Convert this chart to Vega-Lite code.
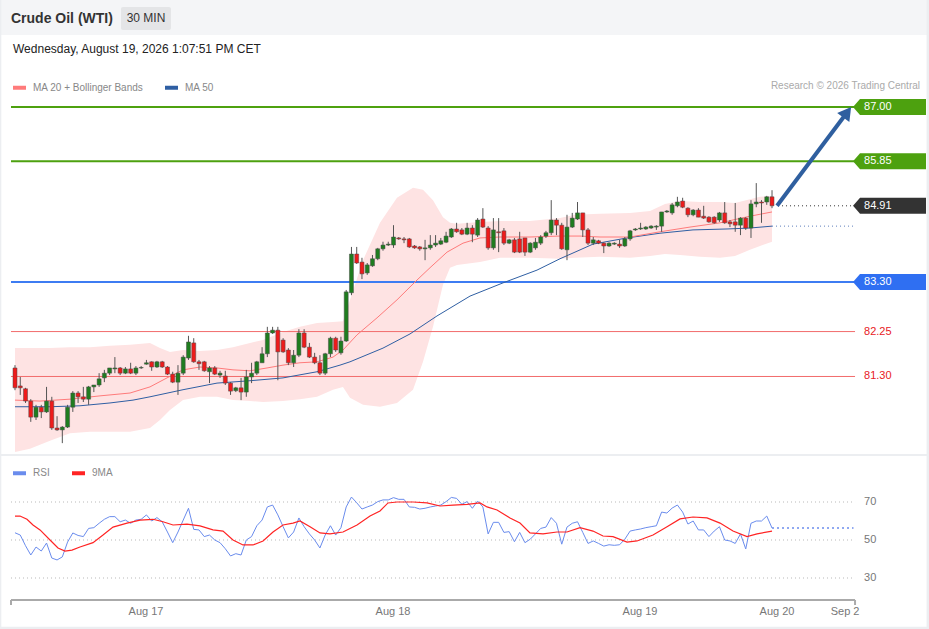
{
"$schema":"https://vega.github.io/schema/vega-lite/v6.json",
"padding":0,"spacing":0,"background":"#ffffff",
"config":{"view":{"stroke":null},"font":"Liberation Sans","scale":{"continuousPadding":0}},
"datasets":{
"candles":[
{"i":0,"o":81.48,"h":81.54,"l":81.01,"c":81.06},{"i":1,"o":81.10,"h":81.29,"l":80.91,"c":81.06},{"i":2,"o":81.04,"h":81.06,"l":80.74,"c":80.78},{"i":3,"o":80.78,"h":80.82,"l":80.34,"c":80.44},{"i":4,"o":80.44,"h":80.70,"l":80.38,"c":80.65},{"i":5,"o":80.65,"h":80.70,"l":80.42,"c":80.55},{"i":6,"o":80.55,"h":81.08,"l":80.53,"c":80.78},{"i":7,"o":80.78,"h":80.87,"l":80.17,"c":80.21},{"i":8,"o":80.21,"h":80.46,"l":80.15,"c":80.17},{"i":9,"o":80.17,"h":80.25,"l":79.89,"c":80.23},
{"i":10,"o":80.23,"h":80.70,"l":80.21,"c":80.65},{"i":11,"o":80.65,"h":80.99,"l":80.55,"c":80.95},{"i":12,"o":80.95,"h":80.99,"l":80.74,"c":80.87},{"i":13,"o":80.87,"h":81.08,"l":80.76,"c":80.82},{"i":14,"o":80.82,"h":81.10,"l":80.70,"c":81.08},{"i":15,"o":81.08,"h":81.12,"l":80.97,"c":81.12},{"i":16,"o":81.12,"h":81.37,"l":81.08,"c":81.25},{"i":17,"o":81.27,"h":81.44,"l":81.18,"c":81.37},{"i":18,"o":81.37,"h":81.48,"l":81.33,"c":81.48},{"i":19,"o":81.46,"h":81.71,"l":81.37,"c":81.48},
{"i":20,"o":81.48,"h":81.50,"l":81.33,"c":81.37},{"i":21,"o":81.37,"h":81.50,"l":81.35,"c":81.46},{"i":22,"o":81.46,"h":81.59,"l":81.35,"c":81.37},{"i":23,"o":81.37,"h":81.52,"l":81.33,"c":81.48},{"i":24,"o":81.48,"h":81.52,"l":81.46,"c":81.49},{"i":25,"o":81.56,"h":81.65,"l":81.55,"c":81.59},{"i":26,"o":81.61,"h":81.62,"l":81.42,"c":81.50},{"i":27,"o":81.50,"h":81.63,"l":81.48,"c":81.61},{"i":28,"o":81.61,"h":81.63,"l":81.48,"c":81.50},{"i":29,"o":81.50,"h":81.52,"l":81.33,"c":81.35},
{"i":30,"o":81.35,"h":81.40,"l":81.16,"c":81.18},{"i":31,"o":81.18,"h":81.54,"l":80.91,"c":81.37},{"i":32,"o":81.37,"h":81.75,"l":81.33,"c":81.71},{"i":33,"o":81.69,"h":82.16,"l":81.65,"c":82.03},{"i":34,"o":82.01,"h":82.11,"l":81.59,"c":81.61},{"i":35,"o":81.61,"h":81.65,"l":81.44,"c":81.57},{"i":36,"o":81.61,"h":81.63,"l":81.40,"c":81.42},{"i":37,"o":81.40,"h":81.52,"l":81.16,"c":81.48},{"i":38,"o":81.48,"h":81.52,"l":81.33,"c":81.35},{"i":39,"o":81.33,"h":81.42,"l":81.27,"c":81.37},
{"i":40,"o":81.31,"h":81.42,"l":81.12,"c":81.16},{"i":41,"o":81.16,"h":81.18,"l":80.91,"c":80.99},{"i":42,"o":81.00,"h":81.08,"l":80.97,"c":81.06},{"i":43,"o":81.06,"h":81.27,"l":80.80,"c":80.97},{"i":44,"o":80.97,"h":81.44,"l":80.87,"c":81.29},{"i":45,"o":81.29,"h":81.59,"l":81.16,"c":81.37},{"i":46,"o":81.37,"h":81.63,"l":81.33,"c":81.61},{"i":47,"o":81.59,"h":81.92,"l":81.59,"c":81.78},{"i":48,"o":81.78,"h":82.35,"l":81.71,"c":82.22},{"i":49,"o":82.22,"h":82.35,"l":82.20,"c":82.28},
{"i":50,"o":82.28,"h":82.35,"l":81.22,"c":81.82},{"i":51,"o":82.07,"h":82.11,"l":81.80,"c":81.82},{"i":52,"o":81.86,"h":81.90,"l":81.54,"c":81.59},{"i":53,"o":81.59,"h":81.86,"l":81.50,"c":81.75},{"i":54,"o":81.75,"h":82.30,"l":81.71,"c":82.22},{"i":55,"o":82.22,"h":82.30,"l":81.90,"c":81.92},{"i":56,"o":81.92,"h":82.01,"l":81.69,"c":81.71},{"i":57,"o":81.71,"h":81.80,"l":81.56,"c":81.59},{"i":58,"o":81.59,"h":81.75,"l":81.33,"c":81.37},{"i":59,"o":81.37,"h":81.80,"l":81.33,"c":81.78},
{"i":60,"o":81.78,"h":82.14,"l":81.71,"c":82.11},{"i":61,"o":82.11,"h":82.14,"l":81.82,"c":81.86},{"i":62,"o":81.80,"h":82.14,"l":81.76,"c":82.05},{"i":63,"o":82.05,"h":83.13,"l":82.03,"c":83.09},{"i":64,"o":83.07,"h":84.04,"l":83.02,"c":83.89},{"i":65,"o":83.89,"h":84.04,"l":83.68,"c":83.70},{"i":66,"o":83.72,"h":83.81,"l":83.36,"c":83.47},{"i":67,"o":83.49,"h":83.70,"l":83.45,"c":83.66},{"i":68,"o":83.64,"h":83.87,"l":83.62,"c":83.79},{"i":69,"o":83.79,"h":84.02,"l":83.76,"c":84.00},
{"i":70,"o":84.00,"h":84.15,"l":83.96,"c":84.08},{"i":71,"o":84.08,"h":84.15,"l":84.06,"c":84.10},{"i":72,"o":84.08,"h":84.50,"l":84.02,"c":84.25},{"i":73,"o":84.23,"h":84.25,"l":84.19,"c":84.21},{"i":74,"o":84.21,"h":84.25,"l":84.12,"c":84.19},{"i":75,"o":84.21,"h":84.23,"l":84.02,"c":84.04},{"i":76,"o":84.06,"h":84.08,"l":84.00,"c":84.02},{"i":77,"o":84.04,"h":84.06,"l":83.96,"c":84.00},{"i":78,"o":84.00,"h":84.19,"l":83.76,"c":84.02},{"i":79,"o":84.02,"h":84.29,"l":83.98,"c":84.08},
{"i":80,"o":84.08,"h":84.29,"l":84.04,"c":84.12},{"i":81,"o":84.10,"h":84.23,"l":84.08,"c":84.17},{"i":82,"o":84.14,"h":84.36,"l":84.12,"c":84.27},{"i":83,"o":84.25,"h":84.44,"l":84.23,"c":84.42},{"i":84,"o":84.42,"h":84.55,"l":84.34,"c":84.36},{"i":85,"o":84.40,"h":84.44,"l":84.29,"c":84.31},{"i":86,"o":84.31,"h":84.55,"l":84.29,"c":84.44},{"i":87,"o":84.44,"h":84.50,"l":84.14,"c":84.31},{"i":88,"o":84.29,"h":84.65,"l":84.25,"c":84.61},{"i":89,"o":84.63,"h":84.86,"l":84.44,"c":84.46},
{"i":90,"o":84.44,"h":84.48,"l":83.98,"c":84.02},{"i":91,"o":84.02,"h":84.65,"l":83.98,"c":84.40},{"i":92,"o":84.36,"h":84.65,"l":83.93,"c":84.34},{"i":93,"o":84.38,"h":84.44,"l":84.08,"c":84.12},{"i":94,"o":84.12,"h":84.21,"l":84.10,"c":84.19},{"i":95,"o":84.19,"h":84.23,"l":83.91,"c":83.93},{"i":96,"o":84.21,"h":84.36,"l":83.91,"c":83.93},{"i":97,"o":84.23,"h":84.23,"l":83.85,"c":83.93},{"i":98,"o":83.93,"h":84.14,"l":83.91,"c":84.12},{"i":99,"o":84.02,"h":84.23,"l":83.98,"c":84.14},
{"i":100,"o":84.12,"h":84.29,"l":84.08,"c":84.25},{"i":101,"o":84.27,"h":84.38,"l":84.23,"c":84.34},{"i":102,"o":84.34,"h":85.03,"l":84.29,"c":84.61},{"i":103,"o":84.61,"h":84.65,"l":84.29,"c":84.50},{"i":104,"o":84.50,"h":84.55,"l":83.98,"c":84.00},{"i":105,"o":83.98,"h":84.72,"l":83.76,"c":84.46},{"i":106,"o":84.46,"h":84.76,"l":84.44,"c":84.65},{"i":107,"o":84.63,"h":84.99,"l":84.61,"c":84.76},{"i":108,"o":84.76,"h":84.76,"l":84.25,"c":84.40},{"i":109,"o":84.40,"h":84.44,"l":84.08,"c":84.12},
{"i":110,"o":84.12,"h":84.25,"l":84.08,"c":84.19},{"i":111,"o":84.17,"h":84.19,"l":84.10,"c":84.12},{"i":112,"o":84.12,"h":84.14,"l":83.91,"c":84.06},{"i":113,"o":84.06,"h":84.14,"l":84.04,"c":84.12},{"i":114,"o":84.10,"h":84.14,"l":84.08,"c":84.12},{"i":115,"o":84.10,"h":84.19,"l":84.02,"c":84.06},{"i":116,"o":84.06,"h":84.25,"l":84.04,"c":84.21},{"i":117,"o":84.21,"h":84.40,"l":84.17,"c":84.38},{"i":118,"o":84.40,"h":84.44,"l":84.38,"c":84.42},{"i":119,"o":84.42,"h":84.55,"l":84.40,"c":84.44},
{"i":120,"o":84.42,"h":84.48,"l":84.40,"c":84.46},{"i":121,"o":84.44,"h":84.50,"l":84.42,"c":84.48},{"i":122,"o":84.46,"h":84.50,"l":84.40,"c":84.48},{"i":123,"o":84.48,"h":84.78,"l":84.36,"c":84.78},{"i":124,"o":84.78,"h":84.82,"l":84.76,"c":84.80},{"i":125,"o":84.76,"h":84.97,"l":84.72,"c":84.93},{"i":126,"o":84.91,"h":85.10,"l":84.88,"c":84.99},{"i":127,"o":85.01,"h":85.08,"l":84.86,"c":84.88},{"i":128,"o":84.86,"h":84.88,"l":84.67,"c":84.72},{"i":129,"o":84.72,"h":84.84,"l":84.69,"c":84.82},
{"i":130,"o":84.82,"h":84.86,"l":84.67,"c":84.67},{"i":131,"o":84.69,"h":84.91,"l":84.63,"c":84.65},{"i":132,"o":84.67,"h":84.69,"l":84.55,"c":84.57},{"i":133,"o":84.67,"h":84.69,"l":84.53,"c":84.55},{"i":134,"o":84.61,"h":84.78,"l":84.57,"c":84.76},{"i":135,"o":84.76,"h":84.99,"l":84.53,"c":84.55},{"i":136,"o":84.57,"h":84.61,"l":84.46,"c":84.53},{"i":137,"o":84.57,"h":84.97,"l":84.36,"c":84.50},{"i":138,"o":84.50,"h":84.67,"l":84.29,"c":84.65},{"i":139,"o":84.65,"h":84.67,"l":84.40,"c":84.44},
{"i":140,"o":84.44,"h":85.03,"l":84.23,"c":84.95},{"i":141,"o":84.95,"h":85.39,"l":84.88,"c":84.99},{"i":142,"o":84.99,"h":85.03,"l":84.55,"c":84.97},{"i":143,"o":84.99,"h":85.12,"l":84.93,"c":85.10},{"i":144,"o":85.10,"h":85.24,"l":84.86,"c":84.91}
],
"band":[
{"i":0,"up":81.90,"lo":79.70},{"i":2.85,"up":81.90,"lo":79.77},{"i":6.66,"up":81.90,"lo":79.94},{"i":10.46,"up":81.92,"lo":80.10},{"i":14.27,"up":81.92,"lo":80.13},{"i":18.07,"up":81.95,"lo":80.13},{"i":21.88,"up":81.97,"lo":80.13},{"i":25.68,"up":82.01,"lo":80.21},{"i":27.58,"up":81.90,"lo":80.38},{"i":29.48,"up":81.82,"lo":80.59},{"i":31.96,"up":81.86,"lo":80.80},{"i":35.19,"up":81.84,"lo":80.87},{"i":38.43,"up":81.86,"lo":80.87},{"i":41.47,"up":81.92,"lo":80.80},{"i":44.70,"up":82.01,"lo":80.78},{"i":47.18,"up":82.07,"lo":80.76},{"i":50.98,"up":82.24,"lo":80.78},{"i":54.21,"up":82.35,"lo":80.82},{"i":57.45,"up":82.43,"lo":80.87},{"i":60.49,"up":82.45,"lo":81.02},{"i":62.39,"up":82.47,"lo":81.08},{"i":63.72,"up":82.92,"lo":80.85},{"i":66.20,"up":83.76,"lo":80.70},{"i":69.43,"up":84.55,"lo":80.66},{"i":72.66,"up":85.08,"lo":80.74},{"i":75.71,"up":85.29,"lo":81.02},{"i":77.61,"up":85.25,"lo":81.61},{"i":79.51,"up":85.03,"lo":82.35},{"i":81.41,"up":84.67,"lo":83.24},{"i":82.75,"up":84.55,"lo":83.60},{"i":84.08,"up":84.53,"lo":83.66},{"i":88.45,"up":84.57,"lo":83.72},{"i":92.26,"up":84.59,"lo":83.81},{"i":97.96,"up":84.59,"lo":83.81},{"i":103.67,"up":84.65,"lo":83.79},{"i":106.52,"up":84.72,"lo":83.81},{"i":111.28,"up":84.74,"lo":83.83},{"i":116.99,"up":84.76,"lo":83.81},{"i":120.79,"up":84.80,"lo":83.85},{"i":123.64,"up":84.95,"lo":83.89},{"i":126.50,"up":85.01,"lo":83.87},{"i":130.30,"up":84.99,"lo":83.83},{"i":134.11,"up":84.99,"lo":83.81},{"i":136.96,"up":84.97,"lo":83.85},{"i":139.81,"up":85.05,"lo":83.98},{"i":141.72,"up":85.10,"lo":84.06},{"i":144,"up":85.12,"lo":84.15}
],
"ma20":[
{"i":0,"p":80.80},{"i":4.76,"p":80.78},{"i":10.46,"p":80.82},{"i":16.17,"p":80.89},{"i":21.88,"p":80.95},{"i":25.68,"p":81.08},{"i":28.91,"p":81.27},{"i":31.96,"p":81.44},{"i":35.19,"p":81.50},{"i":38.43,"p":81.48},{"i":41.47,"p":81.44},{"i":44.70,"p":81.42},{"i":47.94,"p":81.48},{"i":50.98,"p":81.54},{"i":54.21,"p":81.59},{"i":57.45,"p":81.61},{"i":60.49,"p":81.71},{"i":62.39,"p":81.86},{"i":65.06,"p":82.18},{"i":68.86,"p":82.54},{"i":72.66,"p":82.92},{"i":76.47,"p":83.34},{"i":78.94,"p":83.60},{"i":82.18,"p":83.93},{"i":85.22,"p":84.12},{"i":88.45,"p":84.23},{"i":92.26,"p":84.25},{"i":97.96,"p":84.25},{"i":103.67,"p":84.27},{"i":107.48,"p":84.27},{"i":111.28,"p":84.25},{"i":116.99,"p":84.25},{"i":122.69,"p":84.36},{"i":128.40,"p":84.46},{"i":134.11,"p":84.55},{"i":139.81,"p":84.69},{"i":144,"p":84.78}
],
"ma50":[
{"i":0,"p":80.66},{"i":6.66,"p":80.66},{"i":12.36,"p":80.68},{"i":18.07,"p":80.74},{"i":22.45,"p":80.80},{"i":25.68,"p":80.87},{"i":31.96,"p":81.02},{"i":38.43,"p":81.16},{"i":44.70,"p":81.21},{"i":50.98,"p":81.27},{"i":57.45,"p":81.40},{"i":61.82,"p":81.54},{"i":63.72,"p":81.61},{"i":70.00,"p":81.90},{"i":75.14,"p":82.20},{"i":80.27,"p":82.58},{"i":86.55,"p":83.00},{"i":92.83,"p":83.28},{"i":99.30,"p":83.55},{"i":103.67,"p":83.79},{"i":106.52,"p":83.93},{"i":109.95,"p":84.10},{"i":116.42,"p":84.23},{"i":122.69,"p":84.33},{"i":128.97,"p":84.40},{"i":135.44,"p":84.42},{"i":139.81,"p":84.44},{"i":144,"p":84.48}
],
"levels":[{"lv":87.00,"kind":"res"},{"lv":85.85,"kind":"res"},{"lv":84.91,"kind":"last"},{"lv":83.30,"kind":"pivot"},{"lv":82.25,"kind":"sup"},{"lv":81.30,"kind":"sup"}],
"arrow":[{"i":144.95,"p":84.91},{"i":158.30,"p":86.89}],
"days":[{"i":24.92,"d":"Aug 17"},{"i":71.9,"d":"Aug 18"},{"i":118.89,"d":"Aug 19"},{"i":144.95,"d":"Aug 20"},{"i":157.9,"d":"Sep 2"}],
"rsi":[
{"i":0,"v":53.8},{"i":1,"v":52.6},{"i":2,"v":47.0},{"i":3,"v":42.1},{"i":4,"v":46.3},{"i":5,"v":44.2},{"i":6,"v":48.4},{"i":7,"v":40.5},{"i":8,"v":39.5},{"i":9,"v":41.1},{"i":10,"v":48.9},{"i":11,"v":53.7},{"i":12,"v":52.4},{"i":13,"v":51.8},{"i":14,"v":56.1},{"i":15,"v":56.5},{"i":16,"v":58.8},{"i":17,"v":60.9},{"i":18,"v":62.3},{"i":19,"v":62.3},{"i":20,"v":59.6},{"i":21,"v":60.5},{"i":22,"v":58.8},{"i":23,"v":60.5},{"i":24,"v":60.9},{"i":25,"v":63.2},{"i":26,"v":60.0},{"i":27,"v":61.8},{"i":28,"v":59.6},{"i":29,"v":54.2},{"i":30,"v":48.6},{"i":31,"v":54.2},{"i":32,"v":60.5},{"i":33,"v":66.7},{"i":34,"v":55.6},{"i":35,"v":55.3},{"i":36,"v":51.8},{"i":37,"v":52.6},{"i":38,"v":50.0},{"i":39,"v":48.6},{"i":40,"v":45.4},{"i":41,"v":41.6},{"i":42,"v":42.8},{"i":43,"v":42.1},{"i":44,"v":50.0},{"i":45,"v":51.8},{"i":46,"v":57.5},{"i":47,"v":60.5},{"i":48,"v":67.4},{"i":49,"v":68.4},{"i":50,"v":63.2},{"i":51,"v":57.0},{"i":52,"v":51.1},{"i":53,"v":54.2},{"i":54,"v":61.6},{"i":55,"v":57.0},{"i":56,"v":53.2},{"i":57,"v":50.0},{"i":58,"v":45.8},{"i":59,"v":52.6},{"i":60,"v":57.5},{"i":61,"v":52.6},{"i":62,"v":56.5},{"i":63,"v":67.4},{"i":64,"v":72.6},{"i":65,"v":69.6},{"i":66,"v":66.3},{"i":67,"v":67.4},{"i":68,"v":68.4},{"i":69,"v":70.2},{"i":70,"v":71.1},{"i":71,"v":71.1},{"i":72,"v":72.3},{"i":73,"v":71.4},{"i":74,"v":71.4},{"i":75,"v":67.4},{"i":76,"v":67.2},{"i":77,"v":66.3},{"i":78,"v":66.7},{"i":79,"v":67.4},{"i":80,"v":67.9},{"i":81,"v":68.4},{"i":82,"v":70.2},{"i":83,"v":72.4},{"i":84,"v":71.9},{"i":85,"v":68.8},{"i":86,"v":70.2},{"i":87,"v":66.7},{"i":88,"v":70.5},{"i":89,"v":67.4},{"i":90,"v":53.2},{"i":91,"v":59.3},{"i":92,"v":59.3},{"i":93,"v":54.0},{"i":94,"v":54.4},{"i":95,"v":49.1},{"i":96,"v":54.0},{"i":97,"v":48.6},{"i":98,"v":50.4},{"i":99,"v":53.2},{"i":100,"v":56.1},{"i":101,"v":56.8},{"i":102,"v":61.8},{"i":103,"v":58.8},{"i":104,"v":47.8},{"i":105,"v":56.8},{"i":106,"v":58.8},{"i":107,"v":59.6},{"i":108,"v":54.0},{"i":109,"v":48.2},{"i":110,"v":49.5},{"i":111,"v":48.2},{"i":112,"v":46.8},{"i":113,"v":47.5},{"i":114,"v":47.2},{"i":115,"v":47.5},{"i":116,"v":50.4},{"i":117,"v":54.7},{"i":118,"v":55.3},{"i":119,"v":55.8},{"i":120,"v":56.5},{"i":121,"v":57.0},{"i":122,"v":57.5},{"i":123,"v":64.7},{"i":124,"v":64.2},{"i":125,"v":66.8},{"i":126,"v":68.4},{"i":127,"v":64.7},{"i":128,"v":58.4},{"i":129,"v":60.0},{"i":130,"v":55.3},{"i":131,"v":55.3},{"i":132,"v":51.8},{"i":133,"v":54.7},{"i":134,"v":57.0},{"i":135,"v":50.0},{"i":136,"v":49.5},{"i":137,"v":48.2},{"i":138,"v":53.2},{"i":139,"v":45.3},{"i":140,"v":58.8},{"i":141,"v":60.0},{"i":142,"v":60.0},{"i":143,"v":62.6},{"i":144,"v":56.3}
],
"rsi9":[
{"i":0,"v":62.6},{"i":0.95,"v":62.6},{"i":2.28,"v":60.9},{"i":3.42,"v":57.9},{"i":4.76,"v":55.3},{"i":6.66,"v":50.0},{"i":8.18,"v":45.8},{"i":9.51,"v":44.2},{"i":10.84,"v":44.7},{"i":12.36,"v":46.3},{"i":14.84,"v":48.6},{"i":16.74,"v":52.6},{"i":18.64,"v":56.8},{"i":21.31,"v":58.9},{"i":23.78,"v":60.5},{"i":26.25,"v":60.9},{"i":28.15,"v":59.6},{"i":30.06,"v":57.9},{"i":32.72,"v":58.4},{"i":35.19,"v":57.4},{"i":37.66,"v":55.3},{"i":39.57,"v":54.7},{"i":41.47,"v":50.0},{"i":43.37,"v":47.4},{"i":45.27,"v":47.4},{"i":47.18,"v":49.5},{"i":49.08,"v":54.2},{"i":50.98,"v":57.9},{"i":52.88,"v":58.9},{"i":54.21,"v":60.0},{"i":56.12,"v":57.0},{"i":58.02,"v":53.7},{"i":59.92,"v":53.2},{"i":62.39,"v":54.2},{"i":65.06,"v":57.9},{"i":67.53,"v":62.6},{"i":69.43,"v":65.3},{"i":70.95,"v":69.5},{"i":72.66,"v":70.0},{"i":75.71,"v":70.0},{"i":78.37,"v":69.5},{"i":80.84,"v":67.9},{"i":83.32,"v":68.4},{"i":85.98,"v":68.8},{"i":88.45,"v":69.5},{"i":89.79,"v":67.4},{"i":91.69,"v":65.8},{"i":94.16,"v":61.6},{"i":96.06,"v":58.9},{"i":97.96,"v":53.7},{"i":100.44,"v":53.2},{"i":103.10,"v":54.2},{"i":105.00,"v":54.2},{"i":107.48,"v":56.5},{"i":109.95,"v":54.7},{"i":111.85,"v":52.1},{"i":113.75,"v":51.8},{"i":116.42,"v":48.9},{"i":118.32,"v":49.5},{"i":121.36,"v":52.6},{"i":124.03,"v":57.0},{"i":126.50,"v":61.1},{"i":128.97,"v":62.1},{"i":131.63,"v":61.6},{"i":134.11,"v":58.9},{"i":136.58,"v":54.7},{"i":139.24,"v":51.8},{"i":141.15,"v":53.2},{"i":144,"v":54.7}
],
"rsilv":[{"lv":70},{"lv":50},{"lv":30}]
},
"vconcat":[
{
"width":929,"height":456,
"layer":[
{"data":{"values":[{"k":"header"}]},"mark":{"type":"rect","fill":"#f4f5f7"},
 "encoding":{"x":{"datum":-2.853,"type":"quantitative","scale":{"domain":[-2.853,173.86],"nice":false,"zero":false,"padding":0},"axis":null},"x2":{"datum":173.86},
 "y":{"datum":89.263,"type":"quantitative","scale":{"domain":[79.618,89.263],"nice":false,"zero":false,"padding":0},"axis":null},"y2":{"datum":88.523}}},
{"data":{"values":[{"k":"edgeL"}]},"mark":{"type":"rect","fill":"#eceef1"},
 "encoding":{"x":{"datum":-2.853,"type":"quantitative","axis":null},"x2":{"datum":-2.60},"y":{"datum":89.263,"type":"quantitative","axis":null},"y2":{"datum":79.618}}},
{"data":{"values":[{"k":"edgeR"}]},"mark":{"type":"rect","fill":"#eceef1"},
 "encoding":{"x":{"datum":173.40,"type":"quantitative","axis":null},"x2":{"datum":173.86},"y":{"datum":89.263,"type":"quantitative","axis":null},"y2":{"datum":79.618}}},
{"data":{"values":[{"t":"Crude Oil (WTI)"}]},"mark":{"type":"text","align":"left","baseline":"middle","fontSize":14,"fontWeight":"bold","color":"#333333"},
 "encoding":{"x":{"datum":-0.761,"type":"quantitative","axis":null},"y":{"datum":88.861,"type":"quantitative","axis":null},"text":{"field":"t"}}},
{"data":{"values":[{"t":"30 MIN"}]},"mark":{"type":"rect","fill":"#e4e5e7","cornerRadius":2},
 "encoding":{"x":{"datum":20.16,"type":"quantitative","axis":null},"x2":{"datum":29.67},"y":{"datum":89.115,"type":"quantitative","axis":null},"y2":{"datum":88.628}}},
{"data":{"values":[{"t":"30 MIN"}]},"mark":{"type":"text","align":"center","baseline":"middle","fontSize":12,"color":"#333333"},
 "encoding":{"x":{"datum":24.92,"type":"quantitative","axis":null},"y":{"datum":88.872,"type":"quantitative","axis":null},"text":{"field":"t"}}},
{"data":{"values":[{"t":"Wednesday, August 19, 2026 1:07:51 PM CET"}]},"mark":{"type":"text","align":"left","baseline":"middle","fontSize":12,"color":"#222222"},
 "encoding":{"x":{"datum":-0.38,"type":"quantitative","axis":null},"y":{"datum":88.227,"type":"quantitative","axis":null},"text":{"field":"t"}}},
{"data":{"values":[{"t":"Research © 2026 Trading Central"}]},"mark":{"type":"text","align":"right","baseline":"middle","fontSize":10,"color":"#aaaaaa"},
 "encoding":{"x":{"datum":172.15,"type":"quantitative","axis":null},"y":{"datum":87.444,"type":"quantitative","axis":null},"text":{"field":"t"}}},
{"data":{"name":"band"},"mark":{"type":"area","fill":"#fee3e3","opacity":1},
 "encoding":{"x":{"field":"i","type":"quantitative","axis":null},"y":{"field":"up","type":"quantitative","axis":null},"y2":{"field":"lo"}}},
{"data":{"name":"levels"},"transform":[{"filter":"datum.kind == 'res'"}],"mark":{"type":"rule","stroke":"#4da10f","strokeWidth":2},
 "encoding":{"x":{"datum":-0.761,"type":"quantitative","axis":null},"x2":{"datum":159.79},"y":{"field":"lv","type":"quantitative","axis":null}}},
{"data":{"name":"levels"},"transform":[{"filter":"datum.kind == 'pivot'"}],"mark":{"type":"rule","stroke":"#3d7cf2","strokeWidth":2},
 "encoding":{"x":{"datum":-0.761,"type":"quantitative","axis":null},"x2":{"datum":159.79},"y":{"field":"lv","type":"quantitative","axis":null}}},
{"data":{"name":"levels"},"transform":[{"filter":"datum.kind == 'sup'"}],"mark":{"type":"rule","stroke":"#f26b6b","strokeWidth":1},
 "encoding":{"x":{"datum":-0.761,"type":"quantitative","axis":null},"x2":{"datum":159.79},"y":{"field":"lv","type":"quantitative","axis":null}}},
{"data":{"name":"ma50"},"mark":{"type":"line","strokeWidth":1},
 "encoding":{"x":{"field":"i","type":"quantitative","axis":null},"y":{"field":"p","type":"quantitative","axis":null},
 "color":{"datum":"MA 50","type":"nominal","scale":{"domain":["MA 20 + Bollinger Bands","MA 50"],"range":["#ff7b7b","#2f5fa3"]},
  "legend":{"title":null,"orient":"none","legendX":11,"legendY":79,"direction":"horizontal","symbolType":"stroke","symbolSize":169,"symbolStrokeWidth":4,"labelFontSize":10,"labelColor":"#888888","labelOffset":5,"columnPadding":13,"padding":0}}}},
{"data":{"name":"ma20"},"mark":{"type":"line","strokeWidth":1},
 "encoding":{"x":{"field":"i","type":"quantitative","axis":null},"y":{"field":"p","type":"quantitative","axis":null},"color":{"datum":"MA 20 + Bollinger Bands","type":"nominal"}}},
{"data":{"name":"candles"},"mark":{"type":"rule","color":"#555555","strokeWidth":1},
 "encoding":{"x":{"field":"i","type":"quantitative","axis":null},"y":{"field":"l","type":"quantitative","axis":null},"y2":{"field":"h"}}},
{"data":{"name":"candles"},"mark":{"type":"bar","size":4,"stroke":"#4a4a4a","strokeWidth":0.5},
 "encoding":{"x":{"field":"i","type":"quantitative","axis":null},"y":{"field":"o","type":"quantitative","axis":null},"y2":{"field":"c"},
 "fill":{"condition":{"test":"datum.c >= datum.o","value":"#1f7d1f"},"value":"#ee1b1b"}}},
{"data":{"name":"levels"},"transform":[{"filter":"datum.kind == 'last'"}],"mark":{"type":"rule","stroke":"#333333","strokeWidth":1,"strokeDash":[1,3]},
 "encoding":{"x":{"datum":145.14,"type":"quantitative","axis":null},"x2":{"datum":159.5},"y":{"field":"lv","type":"quantitative","axis":null}}},
{"data":{"name":"ma50"},"transform":[{"filter":"datum.i == 144"}],"mark":{"type":"rule","stroke":"#5b7dbb","strokeWidth":1,"strokeDash":[1,3]},
 "encoding":{"x":{"field":"i","type":"quantitative","axis":null},"x2":{"datum":159.5},"y":{"field":"p","type":"quantitative","axis":null}}},
{"data":{"name":"arrow"},"mark":{"type":"line","stroke":"#2f5f9f","strokeWidth":4},
 "encoding":{"x":{"field":"i","type":"quantitative","axis":null},"y":{"field":"p","type":"quantitative","axis":null}}},
{"data":{"name":"arrow"},"transform":[{"filter":"datum.i > 150"}],"mark":{"type":"point","shape":"triangle-up","angle":36.8,"size":230,"filled":true,"fill":"#2f5f9f","opacity":1,"strokeWidth":0},
 "encoding":{"x":{"field":"i","type":"quantitative","axis":null},"y":{"field":"p","type":"quantitative","axis":null}}},
{"data":{"name":"levels"},"transform":[{"filter":"datum.kind != 'sup'"}],"mark":{"type":"point","shape":"M-1,0L-0.808,-0.219L1,-0.219L1,0.219L-0.808,0.219Z","size":5329,"filled":true,"opacity":1,"strokeWidth":0},
 "encoding":{"x":{"datum":166.35,"type":"quantitative","axis":null},"y":{"field":"lv","type":"quantitative","axis":null},
 "fill":{"condition":[{"test":"datum.kind == 'res'","value":"#4da10f"},{"test":"datum.kind == 'last'","value":"#333333"}],"value":"#2f6ff2"}}},
{"data":{"name":"levels"},"mark":{"type":"text","align":"left","baseline":"middle","fontSize":11},
 "encoding":{"x":{"datum":161.5,"type":"quantitative","axis":null},"y":{"field":"lv","type":"quantitative","axis":null},"text":{"field":"lv","format":".2f"},
 "fill":{"condition":{"test":"datum.kind == 'sup'","value":"#e8201e"},"value":"#ffffff"}}},
{"data":{"values":[{"k":"sep"}]},"mark":{"type":"rect","fill":"#eceef1"},
 "encoding":{"x":{"datum":-2.853,"type":"quantitative","axis":null},"x2":{"datum":173.86},"y":{"datum":79.66,"type":"quantitative","axis":null},"y2":{"datum":79.618}}}
]
},
{
"width":929,"height":173,
"layer":[
{"data":{"values":[{"k":"edgeL"}]},"mark":{"type":"rect","fill":"#eceef1"},
 "encoding":{"x":{"datum":-2.853,"type":"quantitative","scale":{"domain":[-2.853,173.86],"nice":false,"zero":false,"padding":0},"axis":null},"x2":{"datum":-2.60},
 "y":{"datum":94.21,"type":"quantitative","scale":{"domain":[3.16,94.21],"nice":false,"zero":false,"padding":0},"axis":null},"y2":{"datum":3.16}}},
{"data":{"values":[{"k":"edgeR"}]},"mark":{"type":"rect","fill":"#eceef1"},
 "encoding":{"x":{"datum":173.40,"type":"quantitative","axis":null},"x2":{"datum":173.86},"y":{"datum":94.21,"type":"quantitative","axis":null},"y2":{"datum":3.16}}},
{"data":{"values":[{"k":"edgeB"}]},"mark":{"type":"rect","fill":"#eceef1"},
 "encoding":{"x":{"datum":-2.853,"type":"quantitative","axis":null},"x2":{"datum":173.86},"y":{"datum":4.3,"type":"quantitative","axis":null},"y2":{"datum":3.16}}},
{"data":{"name":"rsilv"},"mark":{"type":"rule","stroke":"#b8b8b8","strokeWidth":1,"strokeDash":[1,3]},
 "encoding":{"x":{"datum":-0.761,"type":"quantitative","axis":null},"x2":{"datum":159.79},"y":{"field":"lv","type":"quantitative","axis":null}}},
{"data":{"name":"rsilv"},"mark":{"type":"text","align":"left","baseline":"middle","fontSize":11,"color":"#777777"},
 "encoding":{"x":{"datum":161.5,"type":"quantitative","axis":null},"y":{"field":"lv","type":"quantitative","axis":null},"text":{"field":"lv"}}},
{"data":{"name":"rsi"},"mark":{"type":"line","strokeWidth":1},
 "encoding":{"x":{"field":"i","type":"quantitative","axis":null},"y":{"field":"v","type":"quantitative","axis":null},
 "color":{"datum":"RSI","type":"nominal","scale":{"domain":["RSI","9MA"],"range":["#6a8ced","#ff2424"]},
  "legend":{"title":null,"orient":"none","legendX":11,"legendY":8.5,"direction":"horizontal","symbolType":"stroke","symbolSize":169,"symbolStrokeWidth":4,"labelFontSize":10,"labelColor":"#888888","labelOffset":5,"columnPadding":14,"padding":0}}}},
{"data":{"name":"rsi9"},"mark":{"type":"line","strokeWidth":1.2},
 "encoding":{"x":{"field":"i","type":"quantitative","axis":null},"y":{"field":"v","type":"quantitative","axis":null},"color":{"datum":"9MA","type":"nominal"}}},
{"data":{"name":"rsi"},"transform":[{"filter":"datum.i == 144"}],"mark":{"type":"rule","stroke":"#6a8ced","strokeWidth":1.5,"strokeDash":[2,3]},
 "encoding":{"x":{"field":"i","type":"quantitative","axis":null},"x2":{"datum":159.5},"y":{"field":"v","type":"quantitative","axis":null}}},
{"data":{"values":[{"k":"axis"}]},"mark":{"type":"rule","stroke":"#aaaaaa","strokeWidth":2},
 "encoding":{"x":{"datum":-0.761,"type":"quantitative","axis":null},"x2":{"datum":159.79},"y":{"datum":18.42,"type":"quantitative","axis":null}}},
{"data":{"values":[{"k":"tickL"}]},"mark":{"type":"rule","stroke":"#aaaaaa","strokeWidth":2},
 "encoding":{"x":{"datum":-0.761,"type":"quantitative","axis":null},"y":{"datum":18.42,"type":"quantitative","axis":null},"y2":{"datum":15.8}}},
{"data":{"values":[{"k":"tickR"}]},"mark":{"type":"rule","stroke":"#aaaaaa","strokeWidth":2},
 "encoding":{"x":{"datum":159.79,"type":"quantitative","axis":null},"y":{"datum":18.42,"type":"quantitative","axis":null},"y2":{"datum":15.8}}},
{"data":{"name":"days"},"mark":{"type":"text","align":"center","baseline":"middle","fontSize":11,"color":"#777777"},
 "encoding":{"x":{"field":"i","type":"quantitative","axis":null},"y":{"datum":12.1,"type":"quantitative","axis":null},"text":{"field":"d"}}}
]
}
],
"resolve":{"scale":{"color":"independent","x":"independent","y":"independent"}}
}
